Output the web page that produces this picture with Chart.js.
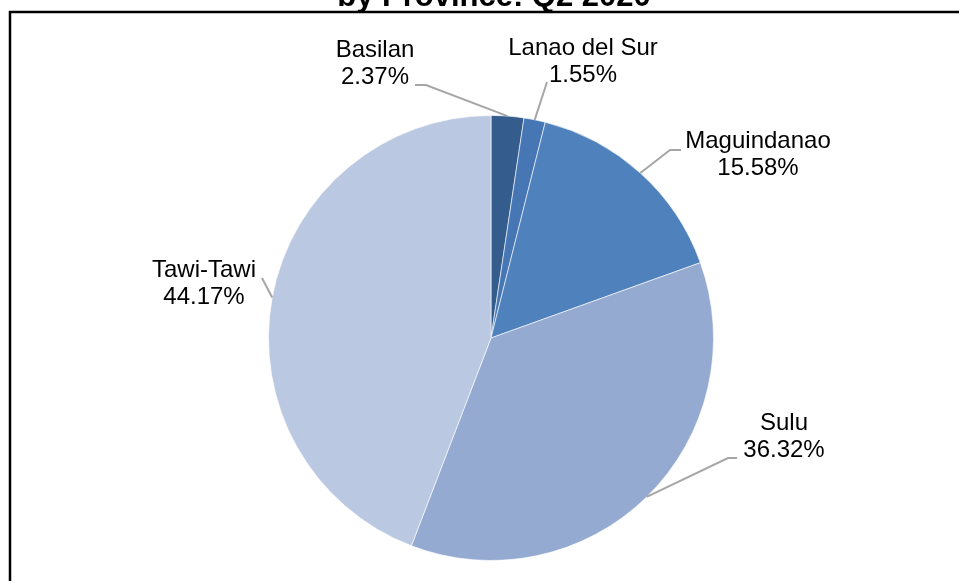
<!DOCTYPE html>
<html>
<head>
<meta charset="utf-8">
<script src="https://cdn.jsdelivr.net/npm/chart.js@4.4.0/dist/chart.umd.min.js"></script>
<style>
  html, body { margin: 0; padding: 0; background: #fff; overflow: hidden; }
  canvas { display: block; }
</style>
</head>
<body>
<canvas id="piechart" width="959" height="581"></canvas>
<script>
// data
var provinces = ["Basilan", "Lanao del Sur", "Maguindanao", "Sulu", "Tawi-Tawi"]
var shares = [2.37, 1.55, 15.58, 36.32, 44.17]
var titleText = "by Province: Q2 2020"

var sliceColors = ["#345C8D", "#4676B3", "#4F81BD", "#95AAD1", "#BAC8E1"]

// where each label sits (line 1 middle) and where its leader line begins
var labelSpots = [
    { x: 375, y: 50, start: [415, 85], elbow: [426, 85] },
    { x: 583, y: 48, start: [547, 82], elbow: null },
    { x: 758, y: 141, start: [681, 150], elbow: [670, 150] },
    { x: 784, y: 423, start: [737, 458], elbow: [728, 458] },
    { x: 204, y: 270, start: [262, 278], elbow: null }
]

const labelFont = "24px 'Liberation Sans', Arial, sans-serif"

const calloutPlugin = {
    id: "callouts",
    afterDraw(chart) {
        const ctx = chart.ctx
        const arcs = chart.getDatasetMeta(0).data

        ctx.save()
        // frame
        ctx.strokeStyle = "#000"
        ctx.lineWidth = 2.5
        ctx.beginPath()
        ctx.moveTo(10, 585)
        ctx.lineTo(10, 12)
        ctx.lineTo(965, 12)
        ctx.stroke()

        // cut-off title
        ctx.fillStyle = "#000"
        ctx.font = "bold 31px 'Liberation Sans', Arial, sans-serif"
        ctx.textAlign = "center"
        ctx.textBaseline = "alphabetic"
        ctx.fillText(titleText, 494, 6)

        arcs.forEach((arc, i) => {
            const spot = labelSpots[i]
            const mid = (arc.startAngle + arc.endAngle) / 2
            const ax = arc.x + Math.cos(mid) * arc.outerRadius
            const ay = arc.y + Math.sin(mid) * arc.outerRadius

            ctx.strokeStyle = "#A6A6A6"
            ctx.lineWidth = 2
            ctx.beginPath()
            ctx.moveTo(spot.start[0], spot.start[1])
            if (spot.elbow) ctx.lineTo(spot.elbow[0], spot.elbow[1])
            ctx.lineTo(ax, ay)
            ctx.stroke()

            ctx.fillStyle = "#000"
            ctx.font = labelFont
            ctx.textAlign = "center"
            ctx.textBaseline = "middle"
            ctx.fillText(provinces[i], spot.x, spot.y)
            ctx.fillText(shares[i].toFixed(2) + "%", spot.x, spot.y + 27)
        })
        ctx.restore()
    }
}

var chartPie = new Chart(document.getElementById("piechart"), {
    type: "pie",
    data: {
        labels: provinces,
        datasets: [{
            data: shares,
            backgroundColor: sliceColors,
            borderColor: "rgba(255,255,255,0.6)",
            borderWidth: 1
        }]
    },
    options: {
        responsive: false,
        animation: false,
        devicePixelRatio: 1,
        layout: { padding: { top: 115, bottom: 20, left: 100, right: 77 } },
        plugins: {
            legend: { display: false },
            tooltip: { enabled: false }
        }
    },
    plugins: [calloutPlugin]
})
</script>
</body>
</html>
